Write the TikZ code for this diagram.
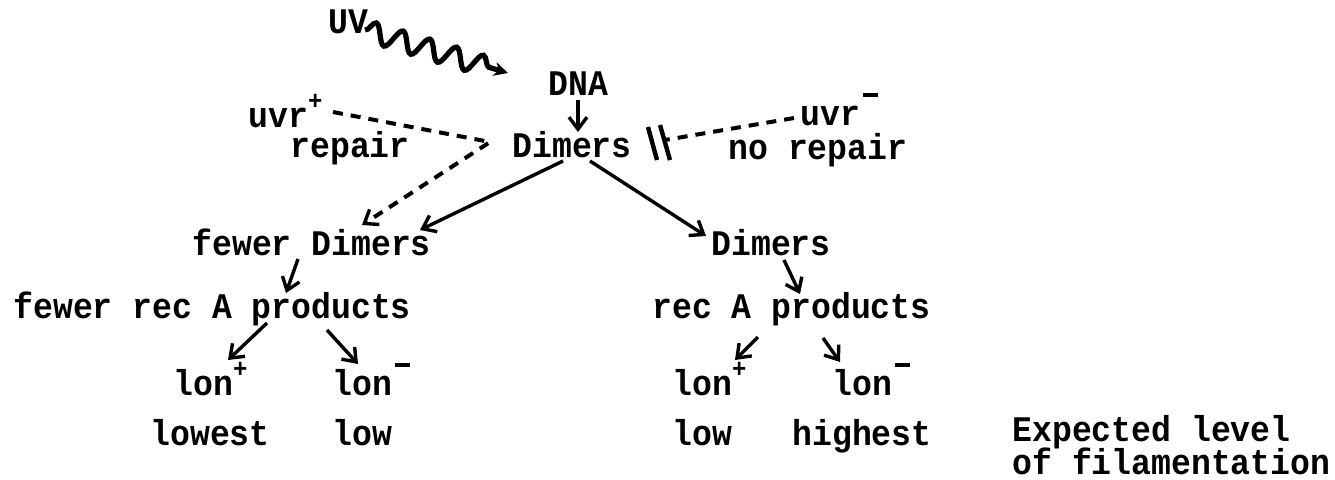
\documentclass[tikz,border=0pt]{standalone}
\usepackage{fontspec}
\setmonofont[FakeStretch=0.92]{Liberation Mono}
\usetikzlibrary{arrows.meta,decorations.pathmorphing,calc}
\newcommand\supplus{\raisebox{0.48em}{\fontsize{13}{13}\selectfont +}}
\newcommand\supminus{\kern0.08em\raisebox{0.78em}{\rule{0.42em}{0.12em}}}
\begin{document}
\begin{tikzpicture}[x=0.5pt,y=-0.5pt,
  txt/.style={font=\fontsize{18}{13.5}\selectfont\ttfamily\bfseries, inner sep=0pt, anchor=base west},
  arr/.style={line width=1.7pt, -{Straight Barb[length=6pt,width=9pt,line width=1.7pt]}},
  dsh/.style={line width=2pt, dash pattern=on 5pt off 4pt},
  barstroke/.style={line width=2.2pt},
  wave/.style={line width=2.6pt, decorate, decoration={snake, amplitude=5pt, segment length=14pt, post length=5pt}}
]
\useasboundingbox (0,0) rectangle (1335,479);
\fill[white] (0,0) rectangle (1335,479);

\node[txt] (uv) at (328,33) {UV};
\node[txt] (dna) at (548,95) {DNA};
\node[txt] (dm) at (512,157) {Dimers};
\node[txt] (up) at (248,127) {uvr\supplus};
\node[txt] (rep) at (290,157) {repair};
\node[txt] (um) at (800,125) {uvr\supminus};
\node[txt] (nrep) at (728,159) {no repair};
\node[txt] (fd) at (192,255) {fewer Dimers};
\node[txt] (dr) at (711,255) {Dimers};
\node[txt] (fr) at (13,318) {fewer rec A products};
\node[txt] (rr) at (652,318) {rec A products};
\node[txt] (lp) at (173,395) {lon\supplus};
\node[txt] (lm) at (332,395) {lon\supminus};
\node[txt] (rp) at (672,395) {lon\supplus};
\node[txt] (rm) at (832,395) {lon\supminus};
\node[txt] (lw1) at (150,445) {lowest};
\node[txt] (lw2) at (332,445) {low};
\node[txt] (lw3) at (672,445) {low};
\node[txt] (hi) at (792,445) {highest};
\node[txt] (ex1) at (1012,441) {Expected level};
\node[txt] (ex2) at (1012,474) {of filamentation};

% UV wave
\draw[wave, -{Stealth[length=7pt,width=7pt]}] ($(uv.base west)+(37,-3)$) -- ($(uv.base west)+(180,40)$);

% DNA -> Dimers
\draw[arr] ($(dna.base west)+(30,5)$) -- ($(dm.base west)+(66,-25)$);

% uvr+ repair dashed path
\draw[dsh, -{Straight Barb[length=6pt,width=9pt,line width=1.7pt]}]
  ($(up.base west)+(85,-15)$) -- ($(dm.base west)+(-22,-15)$) -- ($(fd.base west)+(170,-30)$);

% uvr- blocked
\draw[dsh] ($(um.base west)+(-6,-7)$) -- ($(dm.base west)+(153,-17)$);
\draw[barstroke] ($(dm.base west)+(136,-30)$) -- ($(dm.base west)+(145,3)$);
\draw[barstroke] ($(dm.base west)+(148,-32)$) -- ($(dm.base west)+(158,3)$);

% Dimers branches
\draw[arr] ($(dm.base west)+(51,4)$) -- ($(fd.base west)+(228,-25)$);
\draw[arr] ($(dm.base west)+(78,4)$) -- ($(dr.base west)+(-5,-19)$);

% down the tree
\draw[arr] ($(fd.base west)+(106,4)$) -- ($(fr.base west)+(273,-25)$);
\draw[arr] ($(dr.base west)+(73,5)$) -- ($(rr.base west)+(148,-24)$);
\draw[arr] ($(fr.base west)+(254,5)$) -- ($(lp.base west)+(55,-35)$);
\draw[arr] ($(fr.base west)+(314,12)$) -- ($(lm.base west)+(26,-31)$);
\draw[arr] ($(rr.base west)+(106,19)$) -- ($(rp.base west)+(63,-35)$);
\draw[arr] ($(rr.base west)+(171,20)$) -- ($(rm.base west)+(8,-33)$);
\end{tikzpicture}
\end{document}
